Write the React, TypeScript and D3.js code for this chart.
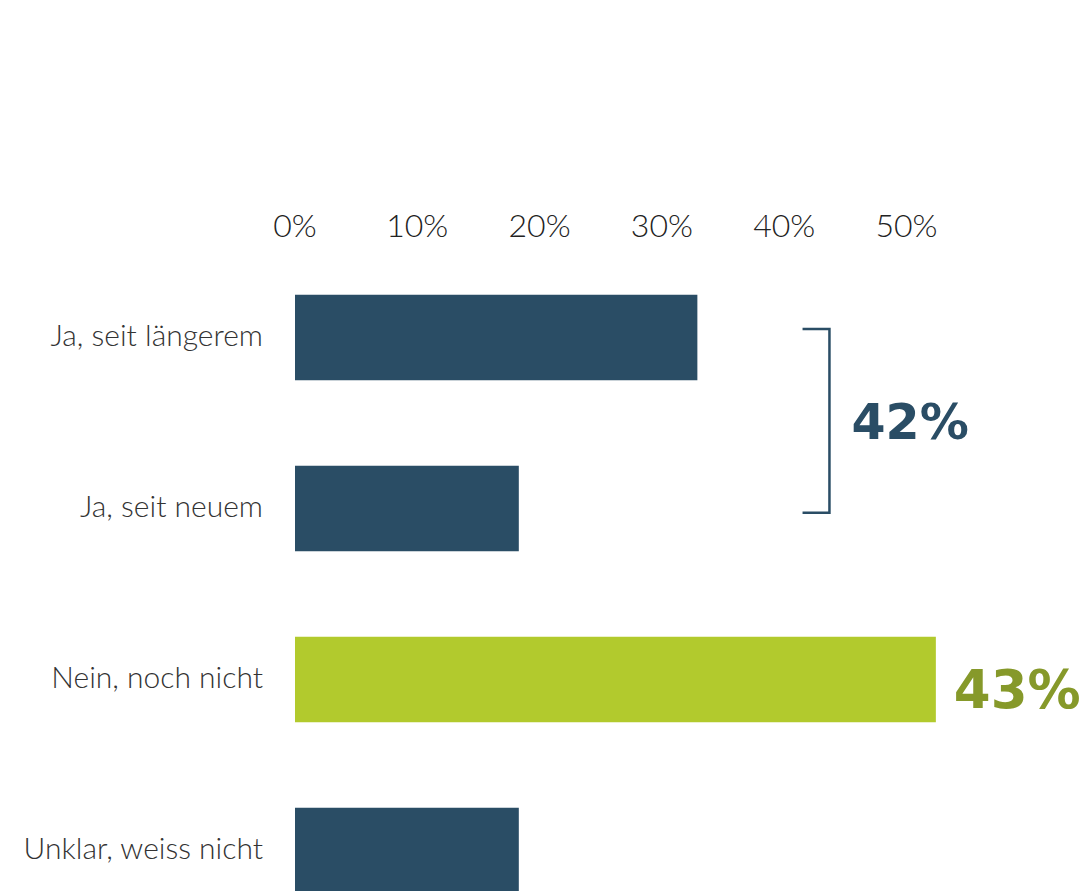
import { useEffect, useRef } from 'react'
import * as d3 from 'd3'

const categories = ['Ja, seit längerem', 'Ja, seit neuem', 'Nein, noch nicht', 'Unklar, weiss nicht']
const values = [32.9, 18.3, 52.4, 18.3]
const highlight = [false, false, true, false]
const tickValues = [0, 10, 20, 30, 40, 50]
const groupLabel = '42%'
const noLabel = '43%'

const DARK = '#2a4d65'
const GREEN = '#b2ca2d'
const OLIVE = '#86992a'

export default function App() {
  const svgRef = useRef<SVGSVGElement>(null)

  useEffect(() => {
    if (!svgRef.current) return
    const svg = d3.select(svgRef.current)
    svg.selectAll('*').remove()

    const x = d3.scaleLinear().domain([0, 50]).range([295, 906.5])
    const y = d3.scaleBand<string>().domain(categories).range([252, 936]).paddingInner(0.5).paddingOuter(0.25)

    // tick labels on top
    svg.append('g')
      .selectAll('text')
      .data(tickValues)
      .join('text')
      .attr('x', d => x(d))
      .attr('y', 237)
      .attr('text-anchor', 'middle')
      .attr('font-family', 'Lato, sans-serif')
      .attr('font-weight', 300)
      .attr('font-size', 32)
      .attr('fill', '#222')
      .text(d => `${d}%`)

    // bars
    svg.append('g')
      .selectAll('rect')
      .data(categories)
      .join('rect')
      .attr('x', x(0))
      .attr('y', d => y(d)!)
      .attr('width', (d, i) => x(values[i]) - x(0))
      .attr('height', y.bandwidth())
      .attr('fill', (d, i) => (highlight[i] ? GREEN : DARK))

    // category labels
    svg.append('g')
      .selectAll('text')
      .data(categories)
      .join('text')
      .attr('x', 263)
      .attr('y', d => y(d)! + y.bandwidth() / 2 - 2)
      .attr('dy', '0.35em')
      .attr('text-anchor', 'end')
      .attr('font-family', 'Lato, sans-serif')
      .attr('font-weight', 300)
      .attr('font-size', 30)
      .attr('fill', '#333')
      .text(d => d)

    // bracket for the two "Ja" rows
    const bx0 = x(41.5)
    const bx1 = x(43.7)
    const by0 = y(categories[0])! + y.bandwidth() * 0.4
    const by1 = y(categories[1])! + y.bandwidth() * 0.55
    svg.append('path')
      .attr('d', `M${bx0},${by0}H${bx1}V${by1}H${bx0}`)
      .attr('fill', 'none')
      .attr('stroke', DARK)
      .attr('stroke-width', 2.5)

    svg.append('text')
      .attr('x', bx1 + 22)
      .attr('y', (by0 + by1) / 2 + 18)
      .attr('font-family', '"DejaVu Sans", sans-serif')
      .attr('font-weight', 700)
      .attr('font-size', 49)
      .attr('fill', DARK)
      .text(groupLabel)

    svg.append('text')
      .attr('x', x(values[2]) + 18)
      .attr('y', y(categories[2])! + y.bandwidth() / 2 + 28)
      .attr('font-family', '"DejaVu Sans", sans-serif')
      .attr('font-weight', 700)
      .attr('font-size', 53)
      .attr('fill', OLIVE)
      .text(noLabel)
  }, [])

  return (
    <svg
      ref={svgRef}
      width={1083}
      height={891}
      style={{ position: 'absolute', left: 0, top: 0, display: 'block', background: '#fff' }}
    />
  )
}
